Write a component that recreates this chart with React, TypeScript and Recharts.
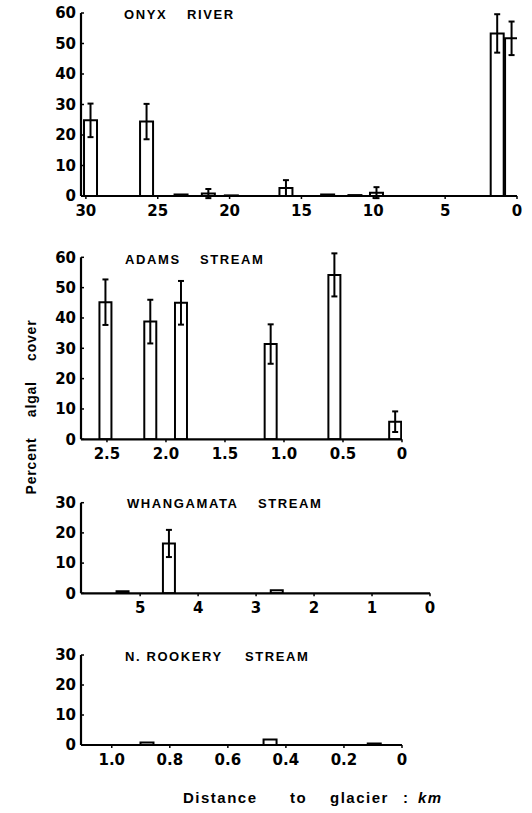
import React from "react";
import { Bar, ComposedChart, ErrorBar, XAxis, YAxis } from "recharts";

// distance to glacier (km), percent algal cover, +/- error
const onyxKm = [29.7, 25.8, 23.4, 21.5, 19.9, 16.1, 13.2, 11.3, 9.8, 1.4, 0.4];
const onyxCover = [24.8, 24.4, 0.5, 0.8, 0.2, 2.6, 0.5, 0.3, 1.1, 53.3, 51.7];
const onyxErr = [5.5, 5.8, 0, 1.5, 0, 2.6, 0, 0, 1.8, 6.3, 5.5];

const adamsKm = [2.51, 2.13, 1.87, 1.11, 0.57, 0.055];
const adamsCover = [45.2, 38.8, 45.0, 31.4, 54.2, 5.8];
const adamsErr = [7.5, 7.2, 7.2, 6.5, 7.1, 3.4];

const whangKm = [5.3, 4.5, 2.64];
const whangCover = [0.7, 16.5, 1.0];
const whangErr = [0, 4.5, 0];

const rookeryKm = [0.88, 0.456, 0.097];
const rookeryCover = [0.8, 1.8, 0.5];
const rookeryErr = [0, 0, 0];

const onyxTicks = [30, 25, 20, 15, 10, 5, 0];
const adamsTicks = [2.5, 2.0, 1.5, 1.0, 0.5, 0];
const adamsLabels = ["2.5", "2.0", "1.5", "1.0", "0.5", "0"];
const whangTicks = [5, 4, 3, 2, 1, 0];
const rookeryTicks = [1.0, 0.8, 0.6, 0.4, 0.2, 0];
const rookeryLabels = ["1.0", "0.8", "0.6", "0.4", "0.2", "0"];

const y60 = [0, 10, 20, 30, 40, 50, 60];
const y30 = [0, 10, 20, 30];

type Row = { km: number; cover: number; err: number | null };

function toRows(km: number[], cover: number[], err: number[]): Row[] {
  return km.map((k, i) => ({ km: k, cover: cover[i], err: err[i] ? err[i] : null }));
}

const tickFont = {
  fontFamily: "'DejaVu Sans', sans-serif",
  fontWeight: 700,
  fontSize: 15,
  fill: "#000",
};

function YTick(props: any) {
  const { x, y, payload } = props;
  return (
    <g>
      <line x1={x + 5} x2={x + 8} y1={y} y2={y} stroke="#000" strokeWidth={1.5} />
      <text x={x} y={y} dy="0.36em" textAnchor="end" {...tickFont}>
        {payload.value}
      </text>
    </g>
  );
}

type PanelProps = {
  data: Row[];
  top: number;
  plotTop: number;
  plotHeight: number;
  right: number;
  maxKm: number;
  xTicks: number[];
  xLabels?: string[];
  yMax: number;
  yTicks: number[];
  barSize: number;
};

function Panel({ data, top, plotTop, plotHeight, right, maxKm, xTicks, xLabels, yMax, yTicks, barSize }: PanelProps) {
  const height = plotTop + plotHeight + 30;
  return (
    <div style={{ position: "absolute", left: 0, top }}>
      <ComposedChart width={532} height={height} data={data} margin={{ top: plotTop, right, bottom: 0, left: 0 }}>
        <XAxis
          type="number"
          dataKey="km"
          domain={[0, maxKm]}
          reversed
          allowDataOverflow
          ticks={xTicks}
          interval={0}
          tickFormatter={(v: number) => (xLabels ? xLabels[xTicks.indexOf(v)] : String(v))}
          height={30}
          axisLine={{ stroke: "#000", strokeWidth: 2.2 }}
          tickLine={{ stroke: "#000", strokeWidth: 1.5 }}
          tickSize={3}
          tickMargin={6}
          tick={tickFont}
        />
        <YAxis
          type="number"
          domain={[0, yMax]}
          ticks={yTicks}
          interval={0}
          allowDataOverflow
          width={81}
          axisLine={{ stroke: "#000", strokeWidth: 2.2 }}
          tickLine={false}
          tickSize={0}
          tickMargin={5}
          tick={(p: any) => <YTick {...p} />}
        />
        <Bar dataKey="cover" fill="#fff" stroke="#000" strokeWidth={2} barSize={barSize} isAnimationActive={false}>
          <ErrorBar dataKey="err" direction="y" width={3} stroke="#000" strokeWidth={2} />
        </Bar>
      </ComposedChart>
    </div>
  );
}

const titleStyle = {
  fontFamily: "'Liberation Sans', Arial, sans-serif",
  fontWeight: 700,
  fontSize: 13,
  letterSpacing: 1.6,
  fill: "#000",
};

const labelStyle = {
  fontFamily: "'Liberation Sans', Arial, sans-serif",
  fontWeight: 700,
  fontSize: 15,
  letterSpacing: 1.5,
  fill: "#000",
};

export default function App() {
  return (
    <div style={{ position: "absolute", left: 0, top: 0, width: 532, height: 813, background: "#fff" }}>
      <Panel
        data={toRows(onyxKm, onyxCover, onyxErr)}
        top={0}
        plotTop={13}
        plotHeight={183}
        right={15}
        maxKm={30.34}
        xTicks={onyxTicks}
        yMax={60}
        yTicks={y60}
        barSize={13}
      />
      <Panel
        data={toRows(adamsKm, adamsCover, adamsErr)}
        top={240}
        plotTop={17.3}
        plotHeight={182}
        right={130}
        maxKm={2.72}
        xTicks={adamsTicks}
        xLabels={adamsLabels}
        yMax={60}
        yTicks={y60}
        barSize={12}
      />
      <Panel
        data={toRows(whangKm, whangCover, whangErr)}
        top={480}
        plotTop={22.7}
        plotHeight={90.6}
        right={102}
        maxKm={6.02}
        xTicks={whangTicks}
        yMax={30}
        yTicks={y30}
        barSize={12}
      />
      <Panel
        data={toRows(rookeryKm, rookeryCover, rookeryErr)}
        top={640}
        plotTop={15}
        plotHeight={90}
        right={130}
        maxKm={1.106}
        xTicks={rookeryTicks}
        xLabels={rookeryLabels}
        yMax={30}
        yTicks={y30}
        barSize={13}
      />
      <svg width={532} height={813} style={{ position: "absolute", left: 0, top: 0, pointerEvents: "none" }}>
        <text y={19} {...titleStyle}>
          <tspan x={124}>ONYX</tspan>
          <tspan x={187}>RIVER</tspan>
        </text>
        <text y={264} {...titleStyle}>
          <tspan x={125}>ADAMS</tspan>
          <tspan x={200}>STREAM</tspan>
        </text>
        <text y={507.5} {...titleStyle}>
          <tspan x={127}>WHANGAMATA</tspan>
          <tspan x={258}>STREAM</tspan>
        </text>
        <text y={661} {...titleStyle}>
          <tspan x={125}>N. ROOKERY</tspan>
          <tspan x={245}>STREAM</tspan>
        </text>
        <text transform="translate(36, 407) rotate(-90)" textAnchor="middle" {...labelStyle} fontSize={14} letterSpacing={0.8}>
          Percent{"\u2002\u2002 "}algal{"\u2002\u2002 "}cover
        </text>
        <text y={803} {...labelStyle}>
          <tspan x={183}>Distance</tspan>
          <tspan x={290}>to</tspan>
          <tspan x={330}>glacier</tspan>
          <tspan x={403}>:</tspan>
          <tspan x={418} fontStyle="italic">km</tspan>
        </text>
      </svg>
    </div>
  );
}
